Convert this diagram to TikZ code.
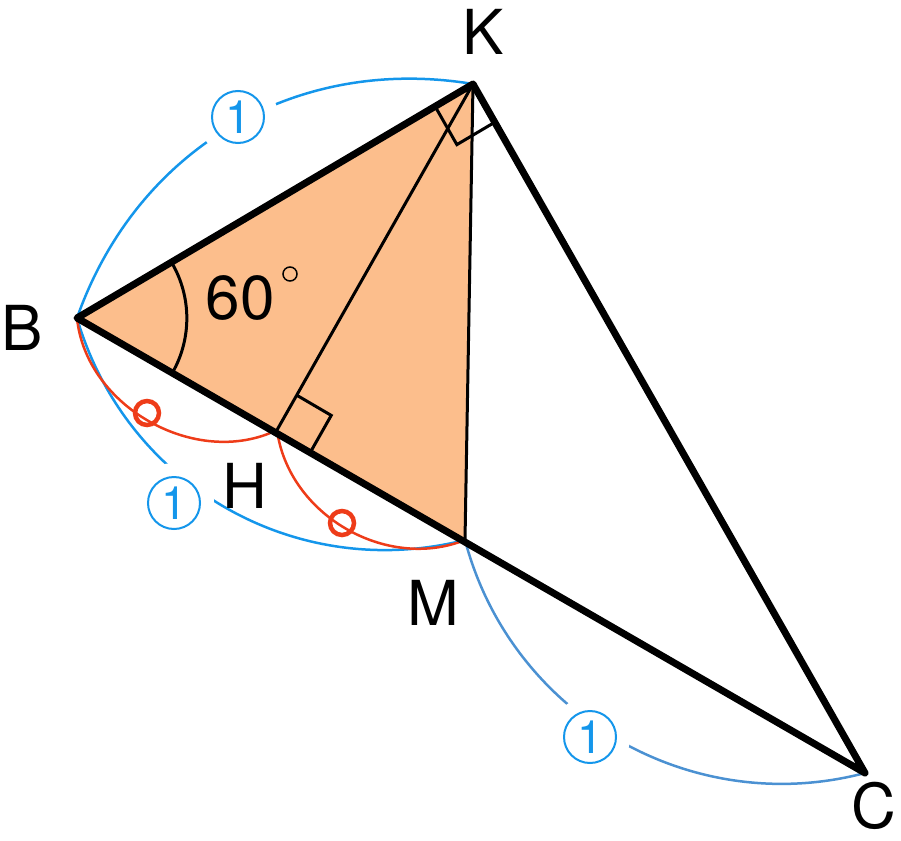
\documentclass[tikz,border=0pt]{standalone}
\usepackage{fontspec}
\setmainfont{TeX Gyre Heros}
\usetikzlibrary{calc}
\begin{document}
\begin{tikzpicture}[x=1pt,y=-1pt,
  lbl/.style={font=\fontsize{62}{62}\selectfont},
  bl/.style={draw=blue1,line width=2.5pt},
  rd/.style={draw=red1,line width=2.5pt},
  halo/.style={circle,fill=white,minimum size=80pt,inner sep=0pt},
  one/.style={circle,draw=blue1,line width=2pt,text=blue1,fill=white,inner sep=0pt,minimum size=52pt,font=\fontsize{46}{46}\selectfont}]
\definecolor{blue1}{RGB}{20,150,235}
\definecolor{blue2}{RGB}{75,145,210}
\definecolor{red1}{RGB}{238,60,25}
\definecolor{fillo}{RGB}{252,190,140}
\useasboundingbox (0,0) rectangle (901,840);
\coordinate (B) at (77,318);
\coordinate (K) at (473,84);
\coordinate (M) at (465,540);
\coordinate (C) at (865,773);
\coordinate (H) at (277,430);
\fill[fillo] (B)--(K)--(M)--cycle;
% arcs
\draw[bl] (B) to[bend left=40] (K);
\draw[bl] (B) to[bend right=44] (M);
\draw[draw=blue2,line width=2.5pt] (M) to[bend right=45] (C);
\draw[rd] (B) to[bend right=55] (H);
\draw[rd] (H) to[bend right=52] (M);
\node[halo] (h1) at (238,117) {};
\node[halo] (h2) at (174,503) {};
\node[halo] (h3) at (590,737) {};
\node[one] (o1) at (238,117) {1};
\node[one] (o2) at (174,503) {1};
\node[one] (o3) at (590,737) {1};
\draw[red1,line width=4.5pt] (147,413) circle (12);
\draw[red1,line width=4.5pt] (342,523) circle (12);
% lines
\draw[line width=3pt] (K)--(M);
\draw[line width=3pt] (K)--(H);
\draw[line width=7pt,line join=round,line cap=round] (C)--(B)--(K)--(C);
% right angles
\draw[line width=3pt] ($(K)!44pt!(B)$) -- ($(K)!44pt!(B)+(K)!44pt!(C)-(K)$) -- ($(K)!44pt!(C)$);
\draw[line width=3pt] ($(H)!40pt!(K)$) -- ($(H)!40pt!(K)+(H)!40pt!(M)-(H)$) -- ($(H)!40pt!(M)$);
% angle
\draw[line width=3pt] ($(B)!110pt!(M)$) arc[start angle=-29.6,end angle=30.3,radius=110pt];
\node[lbl] (ang) at (240,298) {60};
\draw[line width=1.5pt] (290,274) circle (7);
% labels
\node[lbl] (lK) at (483,32) {K};
\node[lbl] (lB) at (22,328) {B};
\node[lbl] (lH) at (245,486) {H};
\node[lbl] (lM) at (433,603) {M};
\node[lbl] (lC) at (874,806) {C};
\end{tikzpicture}
\end{document}
